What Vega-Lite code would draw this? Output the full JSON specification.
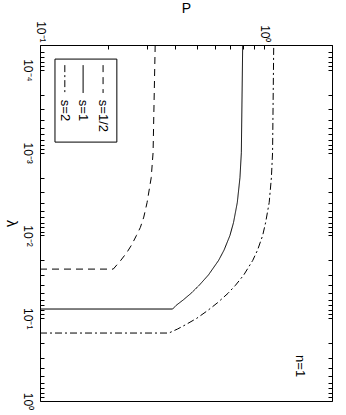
{
  "$schema": "https://vega.github.io/schema/vega-lite/v6.json",
  "width": 292,
  "height": 356,
  "autosize": {"type": "none"},
  "padding": {"left": 40, "top": 45, "right": 14, "bottom": 14},
  "background": "white",
  "config": {
    "view": {"stroke": "#000", "strokeWidth": 1},
    "font": "Liberation Sans",
    "axis": {"grid": false, "domain": false, "tickColor": "#000", "labelColor": "#000", "titleColor": "#000", "labelFont": "Liberation Sans", "titleFont": "Liberation Sans", "titleFontWeight": "normal"}
  },
  "data": {
    "values": [
      {"s": "s=1/2", "lam": 0.00005, "P": 0.326},
      {"s": "s=1/2", "lam": 0.001, "P": 0.319},
      {"s": "s=1/2", "lam": 0.002, "P": 0.313},
      {"s": "s=1/2", "lam": 0.004, "P": 0.300},
      {"s": "s=1/2", "lam": 0.006, "P": 0.290},
      {"s": "s=1/2", "lam": 0.008, "P": 0.280},
      {"s": "s=1/2", "lam": 0.01, "P": 0.269},
      {"s": "s=1/2", "lam": 0.013, "P": 0.256},
      {"s": "s=1/2", "lam": 0.016, "P": 0.244},
      {"s": "s=1/2", "lam": 0.02, "P": 0.229},
      {"s": "s=1/2", "lam": 0.0255, "P": 0.212},
      {"s": "s=1/2", "lam": 0.0255, "P": 0.1},
      {"s": "s=1", "lam": 0.00005, "P": 0.80},
      {"s": "s=1", "lam": 0.001, "P": 0.789},
      {"s": "s=1", "lam": 0.002, "P": 0.778},
      {"s": "s=1", "lam": 0.004, "P": 0.757},
      {"s": "s=1", "lam": 0.007, "P": 0.728},
      {"s": "s=1", "lam": 0.01, "P": 0.702},
      {"s": "s=1", "lam": 0.015, "P": 0.661},
      {"s": "s=1", "lam": 0.02, "P": 0.625},
      {"s": "s=1", "lam": 0.03, "P": 0.563},
      {"s": "s=1", "lam": 0.04, "P": 0.512},
      {"s": "s=1", "lam": 0.05, "P": 0.471},
      {"s": "s=1", "lam": 0.06, "P": 0.435},
      {"s": "s=1", "lam": 0.07, "P": 0.404},
      {"s": "s=1", "lam": 0.0774, "P": 0.39},
      {"s": "s=1", "lam": 0.0774, "P": 0.1},
      {"s": "s=2", "lam": 0.00005, "P": 1.10},
      {"s": "s=2", "lam": 0.001, "P": 1.087},
      {"s": "s=2", "lam": 0.002, "P": 1.074},
      {"s": "s=2", "lam": 0.004, "P": 1.050},
      {"s": "s=2", "lam": 0.007, "P": 1.012},
      {"s": "s=2", "lam": 0.01, "P": 0.982},
      {"s": "s=2", "lam": 0.015, "P": 0.932},
      {"s": "s=2", "lam": 0.02, "P": 0.887},
      {"s": "s=2", "lam": 0.03, "P": 0.809},
      {"s": "s=2", "lam": 0.04, "P": 0.743},
      {"s": "s=2", "lam": 0.05, "P": 0.688},
      {"s": "s=2", "lam": 0.065, "P": 0.618},
      {"s": "s=2", "lam": 0.08, "P": 0.561},
      {"s": "s=2", "lam": 0.1, "P": 0.500},
      {"s": "s=2", "lam": 0.12, "P": 0.445},
      {"s": "s=2", "lam": 0.135, "P": 0.41},
      {"s": "s=2", "lam": 0.151, "P": 0.375},
      {"s": "s=2", "lam": 0.151, "P": 0.1}
    ]
  },
  "resolve": {"axis": {"y": "independent"}},
  "layer": [
    {
      "mark": {"type": "line", "strokeWidth": 1, "color": "#000", "clip": true},
      "encoding": {
        "x": {
          "field": "P", "type": "quantitative",
          "scale": {"type": "log", "domain": [0.1, 2], "nice": false},
          "axis": {
            "orient": "top", "title": "P", "titleFontSize": 14, "titlePadding": 5,
            "values": [0.1, 0.2, 0.3, 0.4, 0.5, 0.6, 0.7, 0.8, 0.9, 1, 2],
            "labelExpr": "datum.value == 0.1 ? '10⁻¹' : datum.value == 1 ? '10⁰' : ''",
            "labelAngle": 90, "labelAlign": "right", "labelBaseline": "middle",
            "labelPadding": 3, "labelFontSize": 12, "labelFlush": false, "labelOverlap": false,
            "tickSize": 4, "offset": -4
          }
        },
        "y": {
          "field": "lam", "type": "quantitative",
          "scale": {"type": "log", "domain": [0.00005, 1], "reverse": true, "nice": false},
          "axis": {
            "orient": "left", "title": "λ", "titleFontSize": 14, "titleAngle": 90, "titleBaseline": "top", "titlePadding": 4,
            "values": [0.00005, 0.00006, 0.00007, 0.00008, 0.00009, 0.0001, 0.0002, 0.0003, 0.0004, 0.0005, 0.0006, 0.0007, 0.0008, 0.0009, 0.001, 0.002, 0.003, 0.004, 0.005, 0.006, 0.007, 0.008, 0.009, 0.01, 0.02, 0.03, 0.04, 0.05, 0.06, 0.07, 0.08, 0.09, 0.1, 0.2, 0.3, 0.4, 0.5, 0.6, 0.7, 0.8, 0.9, 1],
            "labelExpr": "datum.value == 0.0001 ? '10⁻⁴' : datum.value == 0.001 ? '10⁻³' : datum.value == 0.01 ? '10⁻²' : datum.value == 0.1 ? '10⁻¹' : datum.value == 1 ? '10⁰' : ''",
            "labelAngle": 90, "labelAlign": "center", "labelBaseline": "top",
            "labelPadding": 8, "labelFontSize": 12, "labelFlush": false, "labelOverlap": false,
            "tickSize": 4, "offset": -4
          }
        },
        "strokeDash": {
          "field": "s", "type": "nominal",
          "scale": {"domain": ["s=1/2", "s=1", "s=2"], "range": [[7, 5], [1, 0], [7, 3, 2, 3]]},
          "legend": null
        },
        "order": [{"field": "lam", "sort": "ascending"}, {"field": "P", "sort": "descending"}]
      }
    },
    {
      "data": {"values": [{}]},
      "mark": {"type": "rect", "fillOpacity": 0, "stroke": "#000", "strokeWidth": 1},
      "encoding": {
        "x": {"datum": 0.1166, "type": "quantitative"},
        "x2": {"datum": 0.220},
        "y": {
          "datum": 0.000074, "type": "quantitative",
          "axis": {
            "orient": "right", "labels": false, "title": null,
            "values": [0.00005, 0.00006, 0.00007, 0.00008, 0.00009, 0.0001, 0.0002, 0.0003, 0.0004, 0.0005, 0.0006, 0.0007, 0.0008, 0.0009, 0.001, 0.002, 0.003, 0.004, 0.005, 0.006, 0.007, 0.008, 0.009, 0.01, 0.02, 0.03, 0.04, 0.05, 0.06, 0.07, 0.08, 0.09, 0.1, 0.2, 0.3, 0.4, 0.5, 0.6, 0.7, 0.8, 0.9, 1],
            "tickSize": 4, "offset": -4
          }
        },
        "y2": {"datum": 0.000745}
      }
    },
    {
      "data": {"values": [{}]},
      "mark": {"type": "rule", "strokeWidth": 1, "color": "#000", "strokeDash": [7, 5]},
      "encoding": {"x": {"datum": 0.191, "type": "quantitative"}, "y": {"datum": 0.0000875, "type": "quantitative", "axis": null}, "y2": {"datum": 0.00019}}
    },
    {
      "data": {"values": [{}]},
      "mark": {"type": "rule", "strokeWidth": 1, "color": "#000"},
      "encoding": {"x": {"datum": 0.1556, "type": "quantitative"}, "y": {"datum": 0.0000875, "type": "quantitative", "axis": null}, "y2": {"datum": 0.00019}}
    },
    {
      "data": {"values": [{}]},
      "mark": {"type": "rule", "strokeWidth": 1, "color": "#000", "strokeDash": [7, 3, 2, 3]},
      "encoding": {"x": {"datum": 0.129, "type": "quantitative"}, "y": {"datum": 0.0000875, "type": "quantitative", "axis": null}, "y2": {"datum": 0.00019}}
    },
    {
      "data": {"values": [{"label": "s=1/2", "P": 0.191}, {"label": "s=1", "P": 0.1556}, {"label": "s=2", "P": 0.129}]},
      "mark": {"type": "text", "angle": 90, "align": "left", "baseline": "middle", "fontSize": 13, "color": "#000", "font": "Liberation Sans"},
      "encoding": {"x": {"field": "P", "type": "quantitative"}, "y": {"datum": 0.00023, "type": "quantitative", "axis": null}, "text": {"field": "label"}}
    },
    {
      "data": {"values": [{"label": "n=1"}]},
      "mark": {"type": "text", "angle": 90, "align": "left", "baseline": "middle", "fontSize": 13, "color": "#000", "font": "Liberation Sans"},
      "encoding": {"x": {"datum": 1.44, "type": "quantitative"}, "y": {"datum": 0.279, "type": "quantitative", "axis": null}, "text": {"field": "label"}}
    }
  ]
}
